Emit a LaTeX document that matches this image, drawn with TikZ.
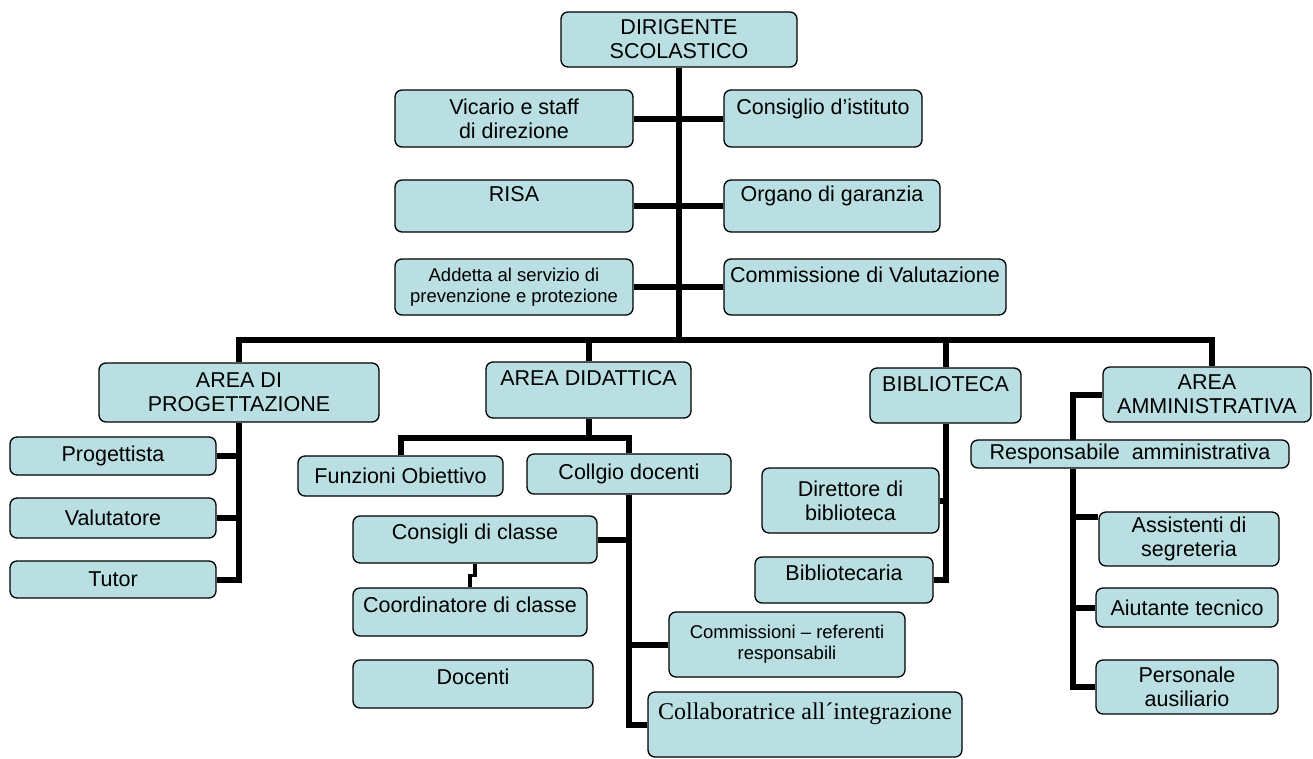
\documentclass[tikz,border=0pt]{standalone}
\usepackage{fontspec}
\setmainfont{Liberation Sans}
\newfontfamily\timesface{Liberation Serif}
\definecolor{boxfill}{RGB}{185,223,226}

\begin{document}
\begin{tikzpicture}[x=1pt, y=-1pt,
	orgbox/.style={draw, line width=1.3pt, rounded corners=7pt, fill=boxfill, align=center, inner sep=2pt, font=\fontsize{21.5}{24}\selectfont},
	smallbox/.style={orgbox, font=\fontsize{18.5}{21}\selectfont},
	link/.style={line width=6pt}]

	\useasboundingbox (0,0) rectangle (1313,758);

	% vertice
	\node[orgbox, minimum width=236pt, minimum height=55pt] (dir) at (679,39.5) {DIRIGENTE\\SCOLASTICO};

	% staff
	\node[orgbox, minimum width=238pt, minimum height=57pt] (vic) at (514,118.5) {Vicario e staff\\di direzione};
	\node[orgbox, minimum width=198pt, minimum height=57pt] (cons) at (823,118.5) {Consiglio d’istituto\\\mbox{}};
	\node[orgbox, minimum width=238pt, minimum height=52pt] (risa) at (514,206) {RISA\\\mbox{}};
	\node[orgbox, minimum width=216pt, minimum height=52pt] (org) at (832,206) {Organo di garanzia\\\mbox{}};
	\node[smallbox, minimum width=238pt, minimum height=56pt] (add) at (514,287) {Addetta al servizio di\\prevenzione e protezione};
	\node[orgbox, minimum width=282pt, minimum height=56pt] (comval) at (865,287) {Commissione di Valutazione\\\mbox{}};

	% aree
	\node[orgbox, minimum width=280pt, minimum height=59pt] (prog) at (239,392.5) {AREA DI\\PROGETTAZIONE};
	\node[orgbox, minimum width=205pt, minimum height=56pt] (did) at (588.5,390) {AREA DIDATTICA\\\mbox{}};
	\node[orgbox, minimum width=151pt, minimum height=55pt] (bib) at (945.5,395.5) {BIBLIOTECA\\\mbox{}};
	\node[orgbox, minimum width=208pt, minimum height=55pt] (amm) at (1207,394.5) {AREA\\AMMINISTRATIVA};

	% progettazione
	\node[orgbox, minimum width=206pt, minimum height=38pt] (proget) at (113,456) {Progettista};
	\node[orgbox, minimum width=206pt, minimum height=40pt] (valut) at (113,518) {Valutatore};
	\node[orgbox, minimum width=206pt, minimum height=37pt] (tutor) at (113,579.5) {Tutor};

	% didattica
	\node[orgbox, minimum width=205pt, minimum height=40pt] (funz) at (400.5,476) {Funzioni Obiettivo};
	\node[orgbox, minimum width=204pt, minimum height=40pt] (coll) at (629,474) {Collgio docenti};
	\node[orgbox, minimum width=244pt, minimum height=47pt] (consc) at (475,539.5) {Consigli di classe\\[-9pt]\mbox{}};
	\node[orgbox, minimum width=234pt, minimum height=48pt] (coord) at (470,612) {Coordinatore di classe\\[-9pt]\mbox{}};
	\node[orgbox, minimum width=240pt, minimum height=48pt] (doc) at (473,684) {Docenti\\[-9pt]\mbox{}};
	\node[smallbox, minimum width=236pt, minimum height=65pt] (comm) at (787,644.5) {Commissioni -- referenti\\responsabili};
	\node[orgbox, minimum width=314pt, minimum height=65pt, font=\timesface\fontsize{24}{27}\selectfont] (collab) at (805,724.5) {Collaboratrice all´integrazione\\\mbox{}};

	% biblioteca
	\node[orgbox, minimum width=177pt, minimum height=65pt] (dirb) at (850.5,500.5) {Direttore di\\biblioteca};
	\node[orgbox, minimum width=178pt, minimum height=46pt] (bibl) at (844,580) {Bibliotecaria\\[-9pt]\mbox{}};

	% amministrativa
	\node[orgbox, minimum width=318pt, minimum height=28pt] (resp) at (1130,454) {Responsabile~ amministrativa};
	\node[orgbox, minimum width=180pt, minimum height=54pt] (ass) at (1189,539) {Assistenti di\\segreteria};
	\node[orgbox, minimum width=182pt, minimum height=39pt] (aiut) at (1187,607.5) {Aiutante tecnico};
	\node[orgbox, minimum width=182pt, minimum height=54pt] (pers) at (1187,687) {Personale\\ausiliario};

	% collegamenti
	\coordinate (busR) at (1212,340);
	\coordinate (ammj) at (1073,440);

	\draw[link] (dir.south) -- (dir.south |- busR);
	\draw[link] (vic.east) -- (cons.west);
	\draw[link] (risa.east) -- (org.west);
	\draw[link] (add.east) -- (comval.west);

	\draw[link] (prog.north) |- (busR) -- (busR |- amm.north);
	\draw[link] (did.north) -- (did.north |- busR);
	\draw[link] (bib.north) -- (bib.north |- busR);

	\draw[link] (prog.south) |- (tutor.east);
	\draw[link] (proget.east) -- (proget.east -| prog.south);
	\draw[link] (valut.east) -- (valut.east -| prog.south);

	\draw[link] (funz.north) |- ([yshift=-19pt]did.south) -| (coll.north);
	\draw[link] (did.south) -- ([yshift=-19pt]did.south);
	\draw[link] (coll.south) |- (collab.west);
	\draw[link] (consc.east) -- (consc.east -| coll.south);
	\draw[link] (comm.west) -- (comm.west -| coll.south);
	\draw[line width=3.5pt] (consc.south) -- ++(0,12) -| (coord.north);

	\draw[link] (bib.south) |- (bibl.east);
	\draw[link] (dirb.east) -- (dirb.east -| bib.south);

	\draw[link] (amm.west) -| (ammj);
	\draw[link] (ammj |- resp.south) |- (pers.west);
	\draw[link] ([yshift=-6pt]ass.north west) -- ++(-26,0);
	\draw[link] (aiut.west) -- (aiut.west -| ammj);

\end{tikzpicture}
\end{document}
